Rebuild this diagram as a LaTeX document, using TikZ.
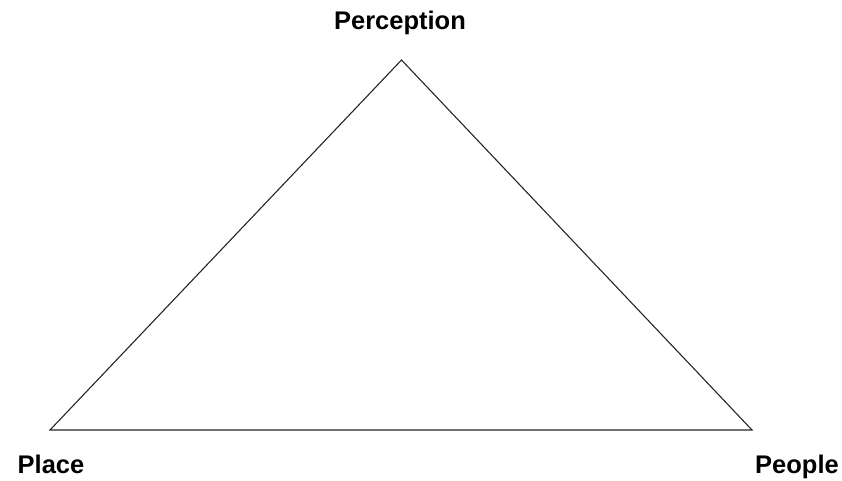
\documentclass[tikz,border=0pt]{standalone}
\usepackage{fontspec}
\setmainfont{Liberation Sans}
\begin{document}
\begin{tikzpicture}[x=1pt,y=-1pt,
  lbl/.style={font=\fontsize{25.5}{30}\selectfont\bfseries, inner sep=0pt, text=black},
  edge/.style={draw=black!85, line width=1.1pt, line join=miter}]
\useasboundingbox (0,0) rectangle (842,480);
\coordinate (top) at (401.5,60);
\coordinate (bl) at (50,430);
\coordinate (br) at (752,430);
\node[lbl, anchor=base] (perception) at (400,29) {Perception};
\node[lbl, anchor=base] (place) at (51,473) {Place};
\node[lbl, anchor=base west] (people) at (755,473) {People};
\draw[edge] (top) -- (br) -- (bl) -- cycle;
\end{tikzpicture}
\end{document}
